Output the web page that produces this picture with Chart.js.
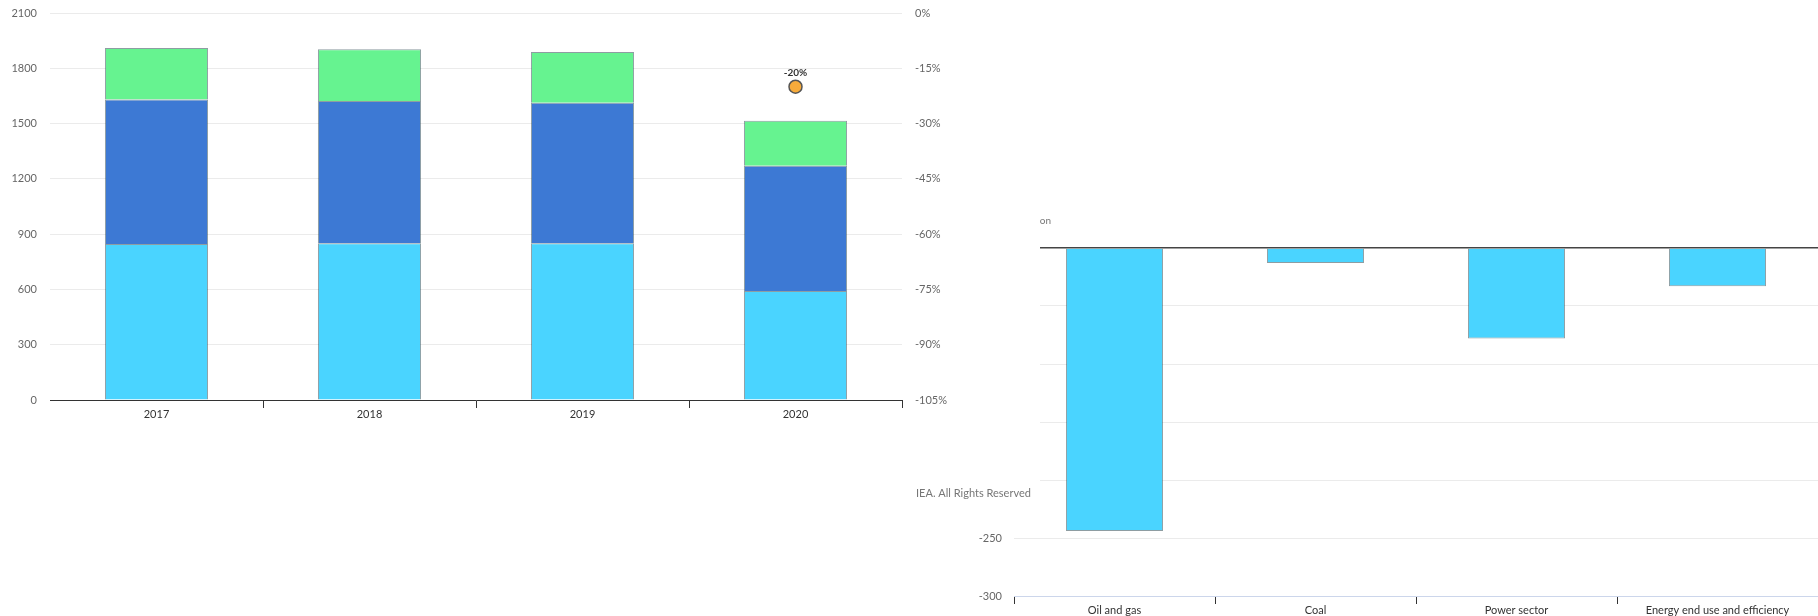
<!DOCTYPE html>
<html>
<head>
<meta charset="utf-8">
<script src="https://cdn.jsdelivr.net/npm/chart.js@4"></script>
<style>
body { margin: 0; background: #fff; width: 1818px; height: 616px; overflow: hidden; position: relative; }
#right { position: absolute; left: 900px; top: 200px; }
#left { position: absolute; left: 0; top: 0; z-index: 2; }
</style>
</head>
<body>
<canvas id="right" width="918" height="416"></canvas>
<canvas id="left" width="1040" height="515"></canvas>
<script>
// left chart: stacked totals per year plus the 2020 change marker
const years = ['2017', '2018', '2019', '2020'];
const cyanValues = [846, 850, 850, 591];
const blueValues = [784, 772, 763, 680];
const greenValues = [280, 281, 275, 244];
const changeValues = [null, null, null, -20];
const changeLabels = ['', '', '', '-20%'];
const leftTicks = { min: 0, max: 2100, step: 300 };
const pctTicks = { min: -105, max: 0, step: 15 };

// right chart: change by sector
const sectors = ['Oil and gas', 'Coal', 'Power sector', 'Energy end use and efficiency'];
const sectorValues = [-244, -13, -78, -33];
const sectorTicks = { min: -300, max: 0, step: 50 };

Chart.defaults.font.family = "Lato, 'Open Sans', sans-serif";
Chart.defaults.font.size = 11;
Chart.defaults.animation = false;

const whiteBg = {
    id: 'whiteBg',
    beforeDraw(chart) {
        const c = chart.ctx;
        c.save();
        c.fillStyle = '#fff';
        c.fillRect(0, 0, chart.width, chart.height);
        c.restore();
    }
};

const barBorder = 'rgba(30,60,70,0.5)';

// tick padding would otherwise be added above the top label
const noVertPad = s => { s.paddingTop = 0; s.paddingBottom = 0; };

const leftLabels = {
    id: 'leftLabels',
    afterDatasetsDraw(chart) {
        const c = chart.ctx;
        const meta = chart.getDatasetMeta(3);
        c.save();
        c.font = "bold 10px Lato, 'Open Sans', sans-serif";
        c.fillStyle = '#333';
        c.textAlign = 'center';
        c.textBaseline = 'bottom';
        meta.data.forEach((pt, i) => {
            if (changeLabels[i]) c.fillText(changeLabels[i], pt.x, pt.y - 9);
        });
        c.font = "11px Lato, 'Open Sans', sans-serif";
        c.fillStyle = '#777';
        c.textAlign = 'left';
        c.textBaseline = 'middle';
        c.fillText('IEA. All Rights Reserved', 916, 493);
        c.restore();
    }
};

new Chart(document.getElementById('left'), {
    type: 'bar',
    data: {
        labels: years,
        datasets: [
            { data: cyanValues, backgroundColor: '#4ad4ff', borderColor: barBorder, borderWidth: 1 },
            { data: blueValues, backgroundColor: '#3d79d4', borderColor: barBorder, borderWidth: 1 },
            { data: greenValues, backgroundColor: '#66f390', borderColor: barBorder, borderWidth: 1 },
            {
                type: 'line', data: changeValues, yAxisID: 'y1', showLine: false,
                pointRadius: 6.5, pointBackgroundColor: '#f7ab3b', pointBorderColor: '#555', pointBorderWidth: 1.5
            }
        ]
    },
    options: {
        responsive: false,
        barPercentage: 0.484,
        categoryPercentage: 1,
        layout: { padding: { top: 13, left: 0, right: 0, bottom: 0 } },
        plugins: { legend: { display: false }, tooltip: { enabled: false } },
        scales: {
            x: {
                stacked: true,
                grid: {
                    offset: true, drawOnChartArea: false, tickLength: 8,
                    color: ctx => ctx.index === 0 ? 'rgba(0,0,0,0)' : '#333'
                },
                border: { color: '#333' },
                ticks: { color: '#333', padding: 0 },
                afterFit: s => { s.height = 115; }
            },
            y: {
                stacked: true,
                min: leftTicks.min, max: leftTicks.max,
                ticks: { stepSize: leftTicks.step, color: '#666', padding: 13, callback: v => String(v) },
                grid: { color: '#ebebeb', drawTicks: false },
                border: { display: false },
                afterFit: s => { s.width = 50; noVertPad(s); }
            },
            y1: {
                position: 'right',
                min: pctTicks.min, max: pctTicks.max,
                ticks: { stepSize: pctTicks.step, color: '#666', padding: 13, callback: v => v + '%' },
                grid: { drawOnChartArea: false, drawTicks: false },
                border: { display: false },
                afterFit: s => { s.width = 138; noVertPad(s); }
            }
        }
    },
    plugins: [whiteBg, leftLabels]
});

const rightTitle = {
    id: 'rightTitle',
    afterDraw(chart) {
        const c = chart.ctx;
        c.save();
        c.font = "10px Lato, 'Open Sans', sans-serif";
        c.fillStyle = '#777';
        c.textAlign = 'right';
        c.textBaseline = 'middle';
        c.fillText('USD billion', 151, 21);
        c.restore();
    }
};

new Chart(document.getElementById('right'), {
    type: 'bar',
    data: {
        labels: sectors,
        datasets: [
            { data: sectorValues, backgroundColor: '#4ad4ff', borderColor: barBorder, borderWidth: 1 }
        ]
    },
    options: {
        responsive: false,
        barPercentage: 0.483,
        categoryPercentage: 1,
        layout: { padding: { top: 48, left: 0, right: 0, bottom: 0 } },
        plugins: { legend: { display: false }, tooltip: { enabled: false } },
        scales: {
            x: {
                grid: { offset: true, drawOnChartArea: false, tickLength: 8, color: '#333' },
                border: { color: '#ccd6eb' },
                ticks: { color: '#333', padding: 0 },
                afterFit: s => { s.height = 20; }
            },
            y: {
                min: sectorTicks.min, max: sectorTicks.max,
                ticks: { stepSize: sectorTicks.step, color: '#666', padding: 12 },
                grid: {
                    drawTicks: false,
                    color: ctx => ctx.tick && ctx.tick.value === 0 ? '#444' : '#ebebeb',
                    lineWidth: ctx => ctx.tick && ctx.tick.value === 0 ? 1.5 : 1
                },
                border: { display: false },
                afterFit: s => { s.width = 114; noVertPad(s); }
            }
        }
    },
    plugins: [whiteBg, rightTitle]
});
</script>
</body>
</html>
